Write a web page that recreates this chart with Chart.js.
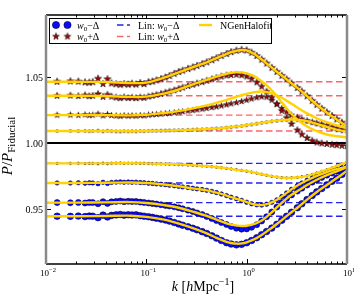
<!DOCTYPE html>
<html>
<head>
<meta charset="utf-8">
<script src="https://cdn.jsdelivr.net/npm/chart.js@4.4.1/dist/chart.umd.min.js"></script>
<style>
html, body { margin: 0; padding: 0; background: #fff; }
#wrap { width: 354px; height: 295px; }
</style>
</head>
<body>
<div id="wrap"><canvas id="ratioChart" width="354" height="295"></canvas></div>
<script>
// k of the simulation bins [h/Mpc]
const kSim = [0.0129, 0.0175, 0.021, 0.0245, 0.027, 0.0292, 0.033, 0.037, 0.041, 0.045,
  0.05, 0.055, 0.06, 0.066, 0.072, 0.079, 0.087, 0.095, 0.105, 0.115,
  0.126, 0.14, 0.155, 0.17, 0.19, 0.21, 0.23, 0.26, 0.29, 0.32,
  0.36, 0.4, 0.45, 0.5, 0.56, 0.63, 0.7, 0.79, 0.89, 1.0,
  1.12, 1.26, 1.41, 1.58, 1.78, 2.0, 2.24, 2.5, 2.8, 3.2,
  3.55, 4.0, 4.5, 5.0, 5.6, 6.3, 7.1, 7.9, 8.9, 10.0];

// w0 + delta, simulations (top to bottom)
const plus1 = [1.0465, 1.0468, 1.0466, 1.0460, 1.0458, 1.0462, 1.0488, 1.0448, 1.0484, 1.0452,
  1.0446, 1.0442, 1.0448, 1.0443, 1.0450, 1.0444, 1.0455, 1.0447, 1.0462, 1.0466,
  1.0475, 1.0485, 1.0497, 1.0508, 1.0525, 1.0538, 1.0549, 1.0562, 1.0573, 1.0585,
  1.0598, 1.0612, 1.0628, 1.0643, 1.0660, 1.0675, 1.0689, 1.0700, 1.0706, 1.0702,
  1.0685, 1.0660, 1.0632, 1.0603, 1.0570, 1.0540, 1.0510, 1.0482, 1.0452, 1.0418,
  1.0390, 1.0355, 1.0320, 1.0290, 1.0260, 1.0232, 1.0205, 1.0180, 1.0155, 1.0135];
const plus2 = [1.0358, 1.0360, 1.0356, 1.0362, 1.0355, 1.0358, 1.0372, 1.0350, 1.0366, 1.0352,
  1.0345, 1.0340, 1.0347, 1.0341, 1.0344, 1.0340, 1.0346, 1.0343, 1.0352, 1.0358,
  1.0365, 1.0373, 1.0382, 1.0390, 1.0400, 1.0410, 1.0420, 1.0432, 1.0442, 1.0452,
  1.0462, 1.0472, 1.0484, 1.0494, 1.0504, 1.0512, 1.0516, 1.0518, 1.0514, 1.0505,
  1.0488, 1.0460, 1.0428, 1.0390, 1.0345, 1.0295, 1.0245, 1.0192, 1.0145, 1.0098,
  1.0065, 1.0038, 1.0018, 1.0005, 0.9998, 0.9993, 0.9988, 0.9984, 0.9980, 0.9977];
const plus3 = [1.0212, 1.0213, 1.0211, 1.0214, 1.0210, 1.0212, 1.0220, 1.0207, 1.0217, 1.0209,
  1.0206, 1.0204, 1.0208, 1.0205, 1.0207, 1.0205, 1.0209, 1.0207, 1.0213, 1.0215,
  1.0217, 1.0220, 1.0223, 1.0226, 1.0230, 1.0234, 1.0238, 1.0243, 1.0248, 1.0252,
  1.0258, 1.0263, 1.0269, 1.0275, 1.0282, 1.0290, 1.0298, 1.0306, 1.0315, 1.0325,
  1.0335, 1.0344, 1.0350, 1.0348, 1.0325, 1.0295, 1.0262, 1.0235, 1.0212, 1.0195,
  1.0182, 1.0170, 1.0160, 1.0152, 1.0143, 1.0133, 1.0122, 1.0113, 1.0105, 1.0099];
const plus4 = [1.0091, 1.0092, 1.0091, 1.0092, 1.0090, 1.0091, 1.0094, 1.0089, 1.0093, 1.0090,
  1.0089, 1.0088, 1.0090, 1.0089, 1.0090, 1.0089, 1.0091, 1.0090, 1.0092, 1.0093,
  1.0093, 1.0094, 1.0095, 1.0096, 1.0097, 1.0098, 1.0099, 1.0100, 1.0101, 1.0103,
  1.0104, 1.0106, 1.0108, 1.0111, 1.0113, 1.0117, 1.0120, 1.0125, 1.0130, 1.0135,
  1.0141, 1.0147, 1.0153, 1.0159, 1.0165, 1.0169, 1.0173, 1.0175, 1.0176, 1.0173,
  1.0168, 1.0160, 1.0150, 1.0140, 1.0128, 1.0117, 1.0106, 1.0097, 1.0089, 1.0082];

// w0 - delta, simulations (top to bottom)
const minus1 = [0.9846, 0.9846, 0.9847, 0.9845, 0.9846, 0.9846, 0.9843, 0.9848, 0.9844, 0.9847,
  0.9848, 0.9849, 0.9847, 0.9848, 0.9847, 0.9848, 0.9846, 0.9847, 0.9845, 0.9844,
  0.9843, 0.9842, 0.9841, 0.9840, 0.9839, 0.9837, 0.9835, 0.9833, 0.9831, 0.9829,
  0.9827, 0.9825, 0.9821, 0.9817, 0.9813, 0.9808, 0.9803, 0.9798, 0.9793, 0.9787,
  0.9780, 0.9772, 0.9764, 0.9756, 0.9748, 0.9742, 0.9738, 0.9736, 0.9737, 0.9740,
  0.9745, 0.9752, 0.9762, 0.9773, 0.9785, 0.9798, 0.9812, 0.9826, 0.9840, 0.9855];
const minus2 = [0.9698, 0.9697, 0.9699, 0.9696, 0.9699, 0.9698, 0.9692, 0.9703, 0.9694, 0.9702,
  0.9704, 0.9706, 0.9703, 0.9705, 0.9703, 0.9704, 0.9701, 0.9700, 0.9696, 0.9694,
  0.9691, 0.9688, 0.9685, 0.9681, 0.9677, 0.9672, 0.9668, 0.9663, 0.9658, 0.9653,
  0.9648, 0.9642, 0.9634, 0.9625, 0.9614, 0.9602, 0.9590, 0.9578, 0.9566, 0.9552,
  0.9540, 0.9532, 0.9530, 0.9537, 0.9551, 0.9570, 0.9595, 0.9622, 0.9650, 0.9678,
  0.9698, 0.9718, 0.9736, 0.9752, 0.9766, 0.9780, 0.9793, 0.9803, 0.9813, 0.9822];
const minus3 = [0.9549, 0.9548, 0.9550, 0.9546, 0.9550, 0.9549, 0.9540, 0.9556, 0.9543, 0.9555,
  0.9558, 0.9561, 0.9556, 0.9559, 0.9557, 0.9558, 0.9553, 0.9550, 0.9546, 0.9542,
  0.9538, 0.9533, 0.9528, 0.9523, 0.9517, 0.9510, 0.9502, 0.9492, 0.9482, 0.9471,
  0.9458, 0.9444, 0.9428, 0.9413, 0.9398, 0.9383, 0.9368, 0.9355, 0.9348, 0.9350,
  0.9362, 0.9382, 0.9410, 0.9442, 0.9478, 0.9515, 0.9550, 0.9580, 0.9607, 0.9636,
  0.9658, 0.9682, 0.9704, 0.9722, 0.9740, 0.9757, 0.9773, 0.9787, 0.9803, 0.9818];
const minus4 = [0.9446, 0.9445, 0.9447, 0.9443, 0.9447, 0.9446, 0.9435, 0.9454, 0.9440, 0.9452,
  0.9456, 0.9459, 0.9454, 0.9457, 0.9455, 0.9456, 0.9450, 0.9446, 0.9442, 0.9437,
  0.9431, 0.9424, 0.9417, 0.9409, 0.9398, 0.9387, 0.9378, 0.9366, 0.9355, 0.9343,
  0.9329, 0.9315, 0.9298, 0.9280, 0.9262, 0.9245, 0.9235, 0.9229, 0.9233, 0.9245,
  0.9262, 0.9283, 0.9306, 0.9330, 0.9356, 0.9385, 0.9415, 0.9445, 0.9476, 0.9510,
  0.9540, 0.9572, 0.9603, 0.9630, 0.9656, 0.9683, 0.9710, 0.9734, 0.9762, 0.9790];

// NGenHalofit curves
const kFit = [0.01, 0.02, 0.04, 0.07, 0.1, 0.15, 0.2, 0.3, 0.4, 0.5, 0.6, 0.7, 0.8, 0.9,
  1.0, 1.2, 1.4, 1.6, 1.8, 2.0, 2.4, 2.8, 3.3, 4.0, 5.0, 6.3, 8.0, 10.0];
const fitPlus1 = [1.0464, 1.0464, 1.0462, 1.0455, 1.0458, 1.0495, 1.0530, 1.0578, 1.0612, 1.0643, 1.0668, 1.0688, 1.0700, 1.0705,
  1.0702, 1.0672, 1.0635, 1.0600, 1.0568, 1.0540, 1.0494, 1.0452, 1.0410, 1.0355, 1.0290, 1.0230, 1.0175, 1.0125];
const fitPlus2 = [1.0358, 1.0358, 1.0356, 1.0350, 1.0352, 1.0375, 1.0400, 1.0448, 1.0478, 1.0503, 1.0520, 1.0532, 1.0537, 1.0535,
  1.0528, 1.0505, 1.0470, 1.0435, 1.0395, 1.0355, 1.0280, 1.0220, 1.0170, 1.0125, 1.0090, 1.0065, 1.0052, 1.0043];
const fitPlus3 = [1.0212, 1.0212, 1.0212, 1.0210, 1.0214, 1.0228, 1.0240, 1.0265, 1.0285, 1.0305, 1.0322, 1.0338, 1.0352, 1.0364,
  1.0373, 1.0386, 1.0390, 1.0386, 1.0375, 1.0362, 1.0330, 1.0298, 1.0262, 1.0225, 1.0188, 1.0158, 1.0133, 1.0112];
const fitPlus4 = [1.0091, 1.0091, 1.0091, 1.0090, 1.0091, 1.0094, 1.0097, 1.0102, 1.0106, 1.0111, 1.0116, 1.0121, 1.0126, 1.0131,
  1.0136, 1.0145, 1.0153, 1.0160, 1.0166, 1.0170, 1.0176, 1.0178, 1.0175, 1.0165, 1.0145, 1.0122, 1.0100, 1.0085];
const fitMinus1 = [0.9846, 0.9846, 0.9846, 0.9847, 0.9846, 0.9842, 0.9839, 0.9831, 0.9825, 0.9817, 0.9811, 0.9803, 0.9797, 0.9792,
  0.9787, 0.9776, 0.9764, 0.9755, 0.9748, 0.9742, 0.9737, 0.9737, 0.9741, 0.9752, 0.9773, 0.9798, 0.9828, 0.9855];
const fitMinus2 = [0.9698, 0.9698, 0.9699, 0.9701, 0.9697, 0.9686, 0.9675, 0.9655, 0.9642, 0.9625, 0.9608, 0.9590, 0.9577, 0.9565,
  0.9553, 0.9535, 0.9530, 0.9538, 0.9552, 0.9570, 0.9612, 0.9650, 0.9684, 0.9718, 0.9752, 0.9780, 0.9804, 0.9822];
const fitMinus3 = [0.9549, 0.9549, 0.9551, 0.9553, 0.9546, 0.9530, 0.9514, 0.9478, 0.9448, 0.9420, 0.9398, 0.9383, 0.9375, 0.9372,
  0.9374, 0.9388, 0.9412, 0.9445, 0.9478, 0.9512, 0.9568, 0.9608, 0.9642, 0.9682, 0.9722, 0.9757, 0.9788, 0.9818];
const fitMinus4 = [0.9446, 0.9446, 0.9448, 0.9450, 0.9441, 0.9420, 0.9395, 0.9352, 0.9316, 0.9282, 0.9258, 0.9243, 0.9238, 0.9240,
  0.9248, 0.9272, 0.9302, 0.9333, 0.9360, 0.9387, 0.9435, 0.9476, 0.9518, 0.9572, 0.9630, 0.9683, 0.9737, 0.9790];

// linear theory ratios (flat)
const linPlus = [1.0464, 1.0358, 1.0212, 1.0091];
const linMinus = [0.9846, 0.9698, 0.9549, 0.9446];

const xTicks = [0.01, 0.1, 1, 10];
const xTickExp = ['\u22122', '\u22121', '0', '1'];
const yTicks = [0.95, 1.00, 1.05];

const SERIF = '"Liberation Serif", "DejaVu Serif", serif';
const GOLD = '#ffd200';
const BLUE = '#0a0aff';
const DARKRED = '#a00000';

function makeStar(r) {
  const c = document.createElement('canvas');
  const s = Math.ceil(2 * r + 2);
  c.width = s; c.height = s;
  const g = c.getContext('2d');
  g.beginPath();
  for (let i = 0; i < 10; i++) {
    const rr = i % 2 === 0 ? r : r * 0.4;
    const a = -Math.PI / 2 + i * Math.PI / 5;
    const px = s / 2 + rr * Math.cos(a), py = s / 2 + rr * Math.sin(a);
    if (i === 0) g.moveTo(px, py); else g.lineTo(px, py);
  }
  g.closePath();
  g.fillStyle = DARKRED;
  g.fill();
  g.lineWidth = 0.5;
  g.strokeStyle = '#000';
  g.stroke();
  return c;
}

const pts = (ks, vs) => ks.map((k, i) => ({ x: k, y: vs[i] }));
const flat = v => [{ x: 0.01, y: v }, { x: 10, y: v }];

const datasets = [];
[fitPlus1, fitPlus2, fitPlus3, fitPlus4, fitMinus1, fitMinus2, fitMinus3, fitMinus4].forEach(v => {
  datasets.push({ data: pts(kFit, v), borderColor: GOLD, borderWidth: 2.4, pointRadius: 0, tension: 0.35, order: 0, clip: 0 });
});
const starR = [3.8, 3.6, 3.2, 1.8];
[plus1, plus2, plus3, plus4].forEach((v, i) => {
  datasets.push({ data: pts(kSim, v), showLine: false, pointStyle: makeStar(starR[i]), pointRadius: starR[i], order: 1, clip: 0 });
});
const dotR = [1.2, 2.2, 3.0, 3.3];
[minus1, minus2, minus3, minus4].forEach((v, i) => {
  datasets.push({ data: pts(kSim, v), showLine: false, pointStyle: 'circle', pointRadius: dotR[i],
    pointBackgroundColor: BLUE, pointBorderColor: '#00002a', pointBorderWidth: 0.6, order: 1, clip: 0 });
});
datasets.push({ data: flat(1.0), borderColor: '#000', borderWidth: 2, pointRadius: 0, order: 2, clip: 0 });
linPlus.forEach(v => datasets.push({ data: flat(v), borderColor: 'rgba(255,60,60,0.8)', borderWidth: 1.4,
  borderDash: [6.5, 3.5], pointRadius: 0, order: 3, clip: 0 }));
linMinus.forEach(v => datasets.push({ data: flat(v), borderColor: '#2424ee', borderWidth: 1.4,
  borderDash: [6.5, 3.5], pointRadius: 0, order: 3, clip: 0 }));

function runs(ctx, parts, x, y, align) {
  let w = 0;
  parts.forEach(p => { ctx.font = p.f; p.w = ctx.measureText(p.t).width; w += p.w; });
  let cx = align === 'center' ? x - w / 2 : (align === 'right' ? x - w : x);
  ctx.textAlign = 'left';
  ctx.textBaseline = 'alphabetic';
  parts.forEach(p => { ctx.font = p.f; ctx.fillText(p.t, cx, y + (p.dy || 0)); cx += p.w; });
}

const frame = {
  id: 'frame',
  afterDraw(chart) {
    const { ctx, chartArea: a, scales: { x, y } } = chart;
    ctx.save();
    ctx.fillStyle = '#000';
    ctx.strokeStyle = '#000';
    // inward ticks
    ctx.lineWidth = 1;
    ctx.beginPath();
    for (let d = -2; d <= 1; d++) {
      for (let m = 1; m <= 9; m++) {
        const k = m * Math.pow(10, d);
        if (k > 10.0001) break;
        const px = Math.round(x.getPixelForValue(k)) + 0.5;
        const len = m === 1 ? 5 : 2.5;
        ctx.moveTo(px, a.bottom); ctx.lineTo(px, a.bottom - len);
        ctx.moveTo(px, a.top); ctx.lineTo(px, a.top + len);
      }
    }
    yTicks.forEach(v => {
      const py = Math.round(y.getPixelForValue(v)) + 0.5;
      ctx.moveTo(a.left, py); ctx.lineTo(a.left + 5, py);
      ctx.moveTo(a.right, py); ctx.lineTo(a.right - 5, py);
    });
    ctx.stroke();
    // spines
    ctx.lineWidth = 1.5;
    ctx.beginPath();
    ctx.moveTo(a.left, a.top); ctx.lineTo(a.right, a.top);
    ctx.moveTo(a.left, a.bottom); ctx.lineTo(a.right, a.bottom);
    ctx.stroke();
    ctx.strokeStyle = '#8a8a8a';
    ctx.lineWidth = 2.5;
    ctx.beginPath();
    ctx.moveTo(a.left, a.top); ctx.lineTo(a.left, a.bottom);
    ctx.moveTo(a.right, a.top); ctx.lineTo(a.right, a.bottom);
    ctx.stroke();

    // tick labels
    yTicks.forEach(v => {
      runs(ctx, [{ t: v.toFixed(2), f: `10px ${SERIF}` }], a.left - 3, y.getPixelForValue(v) + 3.5, 'right');
    });
    xTicks.forEach((k, i) => {
      runs(ctx, [{ t: '10', f: `9px ${SERIF}` }, { t: xTickExp[i], f: `6.5px ${SERIF}`, dy: -4 }],
        x.getPixelForValue(k) + 2, a.bottom + 11.5, 'center');
    });
    // axis titles
    runs(ctx, [{ t: 'k', f: `italic 14px ${SERIF}` }, { t: ' [', f: `14px ${SERIF}` },
      { t: 'h', f: `italic 14px ${SERIF}` }, { t: 'Mpc', f: `14px ${SERIF}` },
      { t: '\u22121', f: `10px ${SERIF}`, dy: -6 }, { t: ']', f: `14px ${SERIF}` }], 203, 291, 'center');
    ctx.save();
    ctx.translate(12, 146);
    ctx.rotate(-Math.PI / 2);
    runs(ctx, [{ t: 'P', f: `italic 15px ${SERIF}` }, { t: '/', f: `15px ${SERIF}` },
      { t: 'P', f: `italic 15px ${SERIF}` }, { t: 'Fiducial', f: `11px ${SERIF}`, dy: 3 }], 0, 0, 'center');
    ctx.restore();

    // legend
    ctx.fillStyle = '#fff';
    ctx.fillRect(49.5, 18.5, 222, 25);
    ctx.strokeStyle = '#000';
    ctx.lineWidth = 1;
    ctx.strokeRect(49.5, 18.5, 222, 25);
    const r1 = 25, r2 = 36.5;
    [56, 67.5].forEach(cx => {
      ctx.beginPath();
      ctx.arc(cx, r1, 3.6, 0, Math.PI * 2);
      ctx.fillStyle = BLUE; ctx.fill();
      ctx.lineWidth = 0.6; ctx.strokeStyle = '#00002a'; ctx.stroke();
      const st = makeStar(3.6);
      ctx.drawImage(st, cx - st.width / 2, r2 - st.height / 2);
    });
    ctx.fillStyle = '#000';
    const wLab = sign => [{ t: 'w', f: `italic 10px ${SERIF}` }, { t: '0', f: `7px ${SERIF}`, dy: 2 },
      { t: sign + '\u0394', f: `10px ${SERIF}` }];
    runs(ctx, wLab('\u2212'), 77, r1 + 3.5, 'left');
    runs(ctx, wLab('+'), 77, r2 + 3.5, 'left');
    ctx.lineWidth = 1.4;
    ctx.setLineDash([6.5, 3.5]);
    ctx.strokeStyle = '#2424ee';
    ctx.beginPath(); ctx.moveTo(117, r1); ctx.lineTo(130, r1); ctx.stroke();
    ctx.strokeStyle = 'rgba(255,60,60,0.8)';
    ctx.beginPath(); ctx.moveTo(117, r2); ctx.lineTo(130, r2); ctx.stroke();
    ctx.setLineDash([]);
    ctx.fillStyle = '#000';
    runs(ctx, [{ t: 'Lin: ', f: `10px ${SERIF}` }].concat(wLab('\u2212')), 138, r1 + 3.5, 'left');
    runs(ctx, [{ t: 'Lin: ', f: `10px ${SERIF}` }].concat(wLab('+')), 138, r2 + 3.5, 'left');
    ctx.strokeStyle = GOLD;
    ctx.lineWidth = 2.4;
    ctx.beginPath(); ctx.moveTo(199, r1); ctx.lineTo(212, r1); ctx.stroke();
    runs(ctx, [{ t: 'NGenHalofit', f: `10px ${SERIF}` }], 220, r1 + 3.5, 'left');
    ctx.restore();
  }
};

new Chart(document.getElementById('ratioChart'), {
  type: 'line',
  data: { datasets },
  options: {
    responsive: false,
    animation: false,
    devicePixelRatio: 1,
    layout: { padding: { left: 46, right: 7, top: 15, bottom: 31 } },
    scales: {
      x: { type: 'logarithmic', min: 0.01, max: 10, display: false },
      y: { type: 'linear', min: 0.9084, max: 1.097, display: false }
    },
    plugins: { legend: { display: false }, tooltip: { enabled: false } },
    elements: { line: { fill: false } }
  },
  plugins: [frame]
});
</script>
</body>
</html>
